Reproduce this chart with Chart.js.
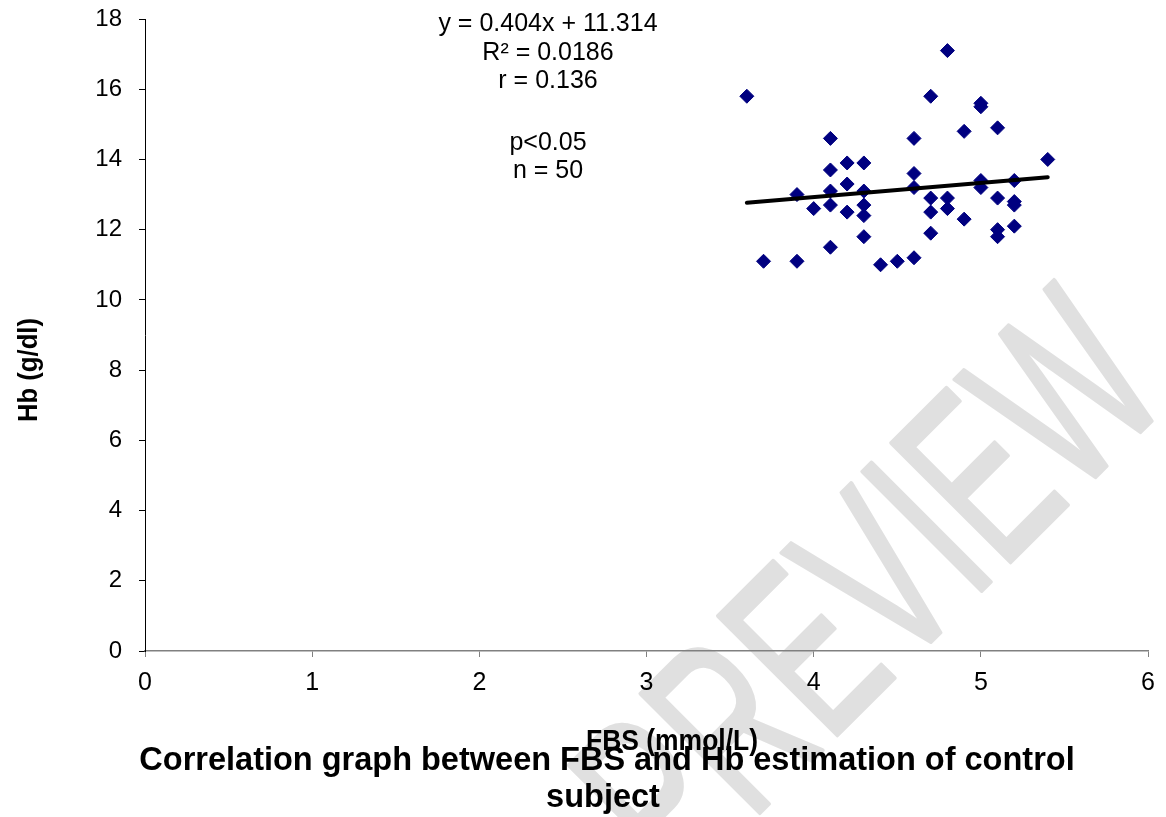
<!DOCTYPE html>
<html>
<head>
<meta charset="utf-8">
<script src="https://cdn.jsdelivr.net/npm/chart.js@4.4.1/dist/chart.umd.min.js"></script>
<style>
  html, body { margin: 0; padding: 0; background: #fff; }
  #wrap { width: 1166px; height: 817px; position: relative; }
</style>
</head>
<body>
<div id="wrap"><canvas id="myChart"></canvas></div>
<script>
// FBS (mmol/L) vs Hb (g/dl), control subjects
var fbs = [3.6, 3.7, 3.9, 3.9, 4.0, 4.1, 4.1, 4.1, 4.1, 4.1,
           4.2, 4.2, 4.2, 4.3, 4.3, 4.3, 4.3, 4.3, 4.4, 4.5,
           4.6, 4.6, 4.6, 4.6, 4.7, 4.7, 4.7, 4.7, 4.8, 4.8, 4.8,
           4.9, 4.9, 5.0, 5.0, 5.0, 5.0, 5.1, 5.1, 5.1, 5.1,
           5.2, 5.2, 5.2, 5.2, 5.4];
var hb  = [15.8, 11.1, 13.0, 11.1, 12.6, 14.6, 13.7, 13.1, 12.7, 11.5,
           13.9, 13.3, 12.5, 13.9, 13.1, 12.7, 12.4, 11.8, 11.0, 11.1,
           14.6, 13.6, 13.2, 11.2, 15.8, 12.9, 12.5, 11.9, 17.1, 12.9, 12.6,
           14.8, 12.3, 15.6, 15.5, 13.4, 13.2, 14.9, 12.9, 12.0, 11.8,
           13.4, 12.8, 12.7, 12.1, 14.0];
var trendX = [3.6, 5.4];
var slope = 0.404, intercept = 11.314;
var yTicks = [0, 2, 4, 6, 8, 10, 12, 14, 16, 18];
var xTicks = [0, 1, 2, 3, 4, 5, 6];
var statLines = ["y = 0.404x + 11.314", "R\u00b2 = 0.0186", "r = 0.136", "p<0.05", "n = 50"];
var statBase = [31, 60, 88, 150, 178];

var points = [];
for (var i = 0; i < fbs.length; i++) {
    points.push({x: fbs[i], y: hb[i]});
}
var trend = [];
for (var i = 0; i < trendX.length; i++) {
    trend.push({x: trendX[i], y: slope * trendX[i] + intercept});
}

var FONT = "'Liberation Sans', Arial, sans-serif";

// draw text squeezed horizontally to a given width
function fitText(c, text, x, y, width) {
    var w = c.measureText(text).width;
    var s = width ? width / w : 1;
    c.save();
    c.translate(x, y);
    c.scale(s, 1);
    c.fillText(text, 0, 0);
    c.restore();
}

var textPlugin = {
    id: 'texts',
    beforeDraw: function(chart) {
        var c = chart.ctx;
        c.save();
        c.fillStyle = '#fff';
        c.fillRect(0, 0, chart.width, chart.height);
        // watermark
        c.rotate(-Math.PI / 4);
        c.scale(0.62, 1);
        c.font = "245px " + FONT;
        c.fillStyle = '#e0e0e0';
        c.strokeStyle = '#e0e0e0';
        c.lineWidth = 4;
        c.lineJoin = 'round';
        c.textAlign = 'left';
        c.textBaseline = 'alphabetic';
        c.fillText("PREVIEW", -152 / 0.62, 1112);
        c.strokeText("PREVIEW", -152 / 0.62, 1112);
        c.restore();
    },
    afterDraw: function(chart) {
        var c = chart.ctx;
        c.save();
        c.fillStyle = '#000';
        c.textAlign = 'center';
        c.textBaseline = 'alphabetic';
        c.font = "25px " + FONT;
        for (var i = 0; i < statLines.length; i++) {
            c.fillText(statLines[i], 548, statBase[i]);
        }
        c.font = "bold 30px " + FONT;
        fitText(c, "FBS (mmol/L)", 672, 750, 172);
        c.font = "bold 32.5px " + FONT;
        c.fillText("Correlation graph between FBS and Hb estimation of control", 607, 770);
        c.fillText("subject", 603, 807);
        c.translate(37, 370);
        c.rotate(-Math.PI / 2);
        c.font = "bold 27px " + FONT;
        fitText(c, "Hb (g/dl)", 0, 0, 104);
        c.restore();
    }
};

var ctx = document.getElementById("myChart").getContext("2d");
var myChart = new Chart(ctx, {
    type: 'scatter',
    data: {
        datasets: [{
            label: 'Hb',
            data: points,
            pointStyle: 'rectRot',
            pointRadius: 7,
            pointHoverRadius: 7,
            backgroundColor: '#000080',
            borderColor: '#000080',
            borderWidth: 1,
            order: 2
        }, {
            type: 'line',
            label: 'Trend',
            data: trend,
            borderColor: '#000',
            borderWidth: 4,
            borderCapStyle: 'round',
            pointRadius: 0,
            fill: false,
            order: 1
        }]
    },
    options: {
        responsive: true,
        maintainAspectRatio: false,
        animation: false,
        layout: { padding: { left: 0, right: 16, top: 19, bottom: 0 } },
        plugins: {
            legend: { display: false },
            tooltip: { enabled: false }
        },
        scales: {
            x: {
                type: 'linear',
                min: 0, max: 6,
                afterBuildTicks: function(axis) {
                    axis.ticks = xTicks.map(function(v) { return {value: v}; });
                },
                afterFit: function(axis) {
                    axis.height = 166;
                    axis.paddingTop = 0; axis.paddingBottom = 0;
                },
                border: { display: true, color: '#808080', width: 1.5 },
                grid: { drawOnChartArea: false, drawTicks: true, tickLength: 6, color: '#808080' },
                ticks: { color: '#000', font: { family: FONT, size: 25 }, padding: 11 }
            },
            y: {
                type: 'linear',
                min: 0, max: 18,
                afterBuildTicks: function(axis) {
                    axis.ticks = yTicks.map(function(v) { return {value: v}; });
                },
                afterFit: function(axis) {
                    axis.width = 145;
                    axis.paddingTop = 0; axis.paddingBottom = 0;
                },
                border: { display: true, color: '#000', width: 1 },
                grid: { drawOnChartArea: false, drawTicks: true, tickLength: 6, color: '#000' },
                ticks: { color: '#000', font: { family: FONT, size: 24 }, padding: 17 }
            }
        }
    },
    plugins: [textPlugin]
});
</script>
</body>
</html>
